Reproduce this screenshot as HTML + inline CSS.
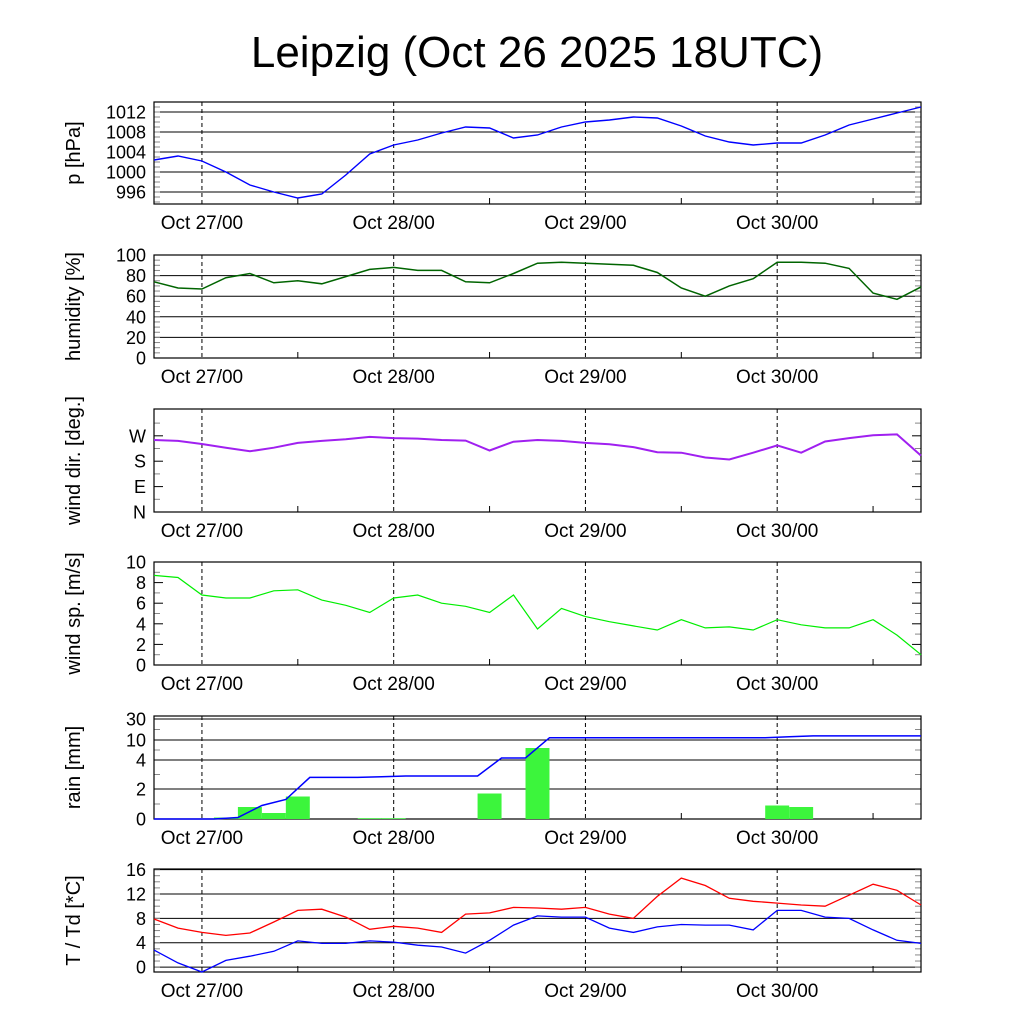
<!DOCTYPE html>
<html><head><meta charset="utf-8"><style>
body{margin:0;background:#fff}
svg{display:block}
text{font-family:"Liberation Sans",sans-serif;fill:#000}
</style></head><body>
<svg id="c" width="1024" height="1024" viewBox="0 0 1024 1024">
<text x="537" y="67" font-size="44" text-anchor="middle">Leipzig (Oct 26 2025 18UTC)</text>
</svg>
<script>
// hours since Oct 26 18UTC, 3-hourly samples
const hours=[0,3,6,9,12,15,18,21,24,27,30,33,36,39,42,45,48,51,54,57,60,63,66,69,72,75,78,81,84,87,90,93,96];
const dayLabels=["Oct 27/00","Oct 28/00","Oct 29/00","Oct 30/00"];
const dayHours=[6,30,54,78];
const pressure=[1002.4,1003.2,1002.2,1000,997.4,996,994.8,995.6,999.4,1003.6,1005.4,1006.4,1007.8,1009,1008.8,1006.8,1007.4,1009,1010,1010.4,1011,1010.8,1009.2,1007.2,1006,1005.4,1005.8,1005.8,1007.4,1009.4,1010.6,1011.8,1013];
const humidity=[74,68,67,78,82,73,75,72,79,86,88,85,85,74,73,82,92,93,92,91,90,83,68,60,70,77,93,93,92,87,63,57,69];
const windDir=[255,252,241,228,215,228,245,252,258,266,262,260,255,253,218,249,255,252,245,240,230,212,210,193,186,210,236,210,250,262,272,275,200];
const windSpd=[8.7,8.5,6.8,6.5,6.5,7.2,7.3,6.3,5.8,5.1,6.5,6.8,6.0,5.7,5.1,6.8,3.5,5.5,4.7,4.2,3.8,3.4,4.4,3.6,3.7,3.4,4.4,3.9,3.6,3.6,4.4,2.9,1.0];
const rain=[0,0,0,0.1,0.8,0.4,1.5,0,0,0.05,0.05,0,0,0,1.7,0,7.6,0,0,0,0,0,0,0,0,0,0.9,0.8,0,0,0,0,0];
const temp=[7.9,6.4,5.7,5.2,5.6,7.4,9.3,9.5,8.2,6.2,6.7,6.4,5.7,8.7,8.9,9.8,9.7,9.5,9.8,8.7,8.0,11.6,14.6,13.4,11.3,10.8,10.5,10.2,10.0,11.8,13.6,12.6,10.2];
const dew=[2.8,0.7,-0.8,1.1,1.8,2.6,4.3,3.9,3.9,4.3,4.1,3.6,3.3,2.3,4.4,6.9,8.4,8.2,8.2,6.4,5.7,6.6,7.0,6.9,6.9,6.1,9.3,9.3,8.2,8.0,6.1,4.4,3.9];
const pTicks=[996,1000,1004,1008,1012];
const hTicks=[0,20,40,60,80,100];
const dTicks=["N","E","S","W"];
const sTicks=[0,2,4,6,8,10];
const rTicks=[0,2,4,10,30];
const tTicks=[0,4,8,12,16];

const svg=document.getElementById('c');
const NS="http://www.w3.org/2000/svg";
const X0=154,X1=921;
function xs(h){return X0+Math.max(0,Math.min(96,h))*(X1-X0)/96;}
function el(tag,attrs,parent){const e=document.createElementNS(NS,tag);for(const k in attrs)e.setAttribute(k,attrs[k]);(parent||svg).appendChild(e);return e;}

function panel(name,top,bot,title,ys,ticks,labels,grid,minor){
  const g=el('g',{});
  
  
  ticks.forEach((t,i)=>{
    const y=ys(t);
    if(grid) el('line',{x1:X0,x2:X1,y1:y,y2:y,stroke:'#000','stroke-width':1},g);
    else {el('line',{x1:X0,x2:X0+9,y1:y,y2:y,stroke:'#000'},g);el('line',{x1:X1-9,x2:X1,y1:y,y2:y,stroke:'#000'},g);}
    const tx=el('text',{x:146,y:y+6.5,'font-size':18,'text-anchor':'end'},g);
    tx.textContent=labels[i];
    
    
  });
  minor.forEach(v=>{const y=ys(v);
    el('line',{x1:X0,x2:X0+6,y1:y,y2:y,stroke:'#888'},g);el('line',{x1:X1-6,x2:X1,y1:y,y2:y,stroke:'#888'},g);});
  dayHours.forEach((h,i)=>{
    const x=xs(h);
    el('line',{x1:x,x2:x,y1:top,y2:bot,stroke:'#000','stroke-dasharray':'4,3'},g);
    const tx=el('text',{x:x,y:bot+25,'font-size':19,'text-anchor':'middle'},g);
    tx.textContent=dayLabels[i];
    
    
    const mx=xs(h+12);
    el('line',{x1:mx,x2:mx,y1:bot-6,y2:bot,stroke:'#000'},g);
  });
  el('rect',{x:X0,y:top,width:X1-X0,height:bot-top,fill:'none',stroke:'#000','stroke-width':1.2},g);
  const tt=el('text',{x:0,y:0,'font-size':20,'text-anchor':'middle',transform:`translate(80,${(top+bot)/2}) rotate(-90)`},g);
  tt.textContent=title;
  
  
  return g;
}
function line(g,name,vals,ys,color,w){
  const d=vals.map((v,i)=>(i?'L':'M')+xs(hours[i]).toFixed(1)+','+ys(v).toFixed(1)).join('');
  const p=el('path',{d:d,fill:'none',stroke:color,'stroke-width':w||1.3},g);
  
  
}
function lin(top,bot,v0,v1){return v=>bot-(v-v0)*(bot-top)/(v1-v0);}
function range(a,b,s){const r=[];for(let v=a;v<=b+1e-9;v+=s)r.push(v);return r;}

let ys=lin(102,204,993.6,1014);
let g=panel('pressure',102,204,'p [hPa]',ys,pTicks,pTicks,true,range(994,1013,1));
line(g,'pressure-line',pressure,ys,'#0000ff',1.4);
ys=lin(255,358,0,100);
g=panel('humidity',255,358,'humidity [%]',ys,hTicks,hTicks,true,range(0,100,5));
line(g,'humidity-line',humidity,ys,'#006400',1.5);
ys=lin(409,512,0,365);
g=panel('wind-dir',409,512,'wind dir. [deg.]',ys,[0,90,180,270],dTicks,false,[45,135,225,315]);
line(g,'wind-dir-line',windDir,ys,'#a020f0',2);
ys=lin(562,665,0,10);
g=panel('wind-speed',562,665,'wind sp. [m/s]',ys,sTicks,sTicks,false,range(1,9,2));
line(g,'wind-speed-line',windSpd,ys,'#00ee00',1.2);
const rv=[0,2,4,10,30],rp=[819,789,760,740,719];
ys=v=>{for(let i=1;i<rv.length;i++){if(v<=rv[i]){return rp[i-1]+(v-rv[i-1])*(rp[i]-rp[i-1])/(rv[i]-rv[i-1]);}}return 719;};
g=panel('rain',716,819,'rain [mm]',ys,rTicks,rTicks,true,[1,3,7,20]);
rain.forEach((v,i)=>{
  if(v<=0)return;
  const x=xs(hours[i]-1.5),w=xs(hours[i]+1.5)-x,y=ys(v);
  const r=el('rect',{x:x,y:y,width:w,height:819-y,fill:'#3cf53c'},g);
  
  
});
let acc=0;const cum=[];
rain.forEach(v=>{acc+=v;cum.push(acc);});
(function(){
  let d='M'+X0+','+ys(0);
  cum.forEach((c,i)=>{const prev=i?cum[i-1]:0;d+='L'+xs(hours[i]-1.5).toFixed(1)+','+ys(prev).toFixed(1)+'L'+xs(hours[i]+1.5).toFixed(1)+','+ys(c).toFixed(1);});
  d+='L'+X1+','+ys(acc).toFixed(1);
  const p=el('path',{d:d,fill:'none',stroke:'#0000ff','stroke-width':1.5},g);
  
  
})();
ys=lin(869,972,-0.8,16.1);
g=panel('temperature',869,972,'T / Td [*C]',ys,tTicks,tTicks,true,range(-0,16,1));
line(g,'temperature-line',temp,ys,'#ff0000',1.3);
line(g,'dewpoint-line',dew,ys,'#0000ff',1.3);
</script>
</body></html>
